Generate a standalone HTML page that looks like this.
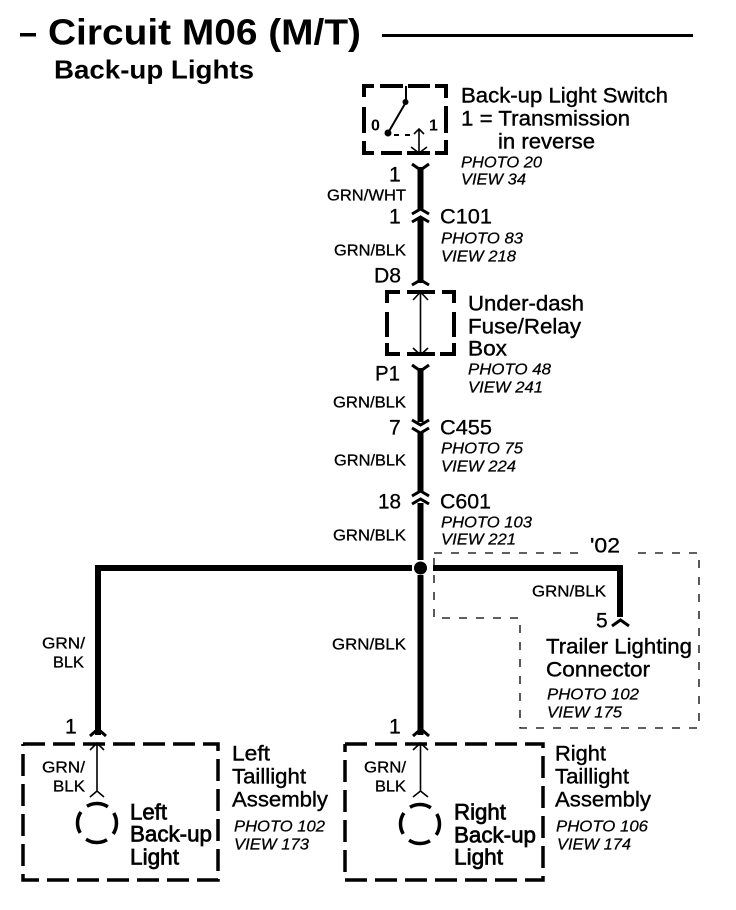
<!DOCTYPE html>
<html><head><meta charset="utf-8"><style>
html,body{margin:0;padding:0;background:#fff}
svg{display:block}
text{font-family:"Liberation Sans",sans-serif;fill:#000;transform:translateY(.6px)}
.l{font-size:21.5px;stroke:#000;stroke-width:.4px}
.b{font-size:22px;stroke:#000;stroke-width:.7px}
.w{font-size:16px;stroke:#000;stroke-width:.3px}
.p{font-size:15.5px;font-style:italic;stroke:#000;stroke-width:.25px}
.n{font-size:21px;stroke:#000;stroke-width:.3px}
.d{fill:none;stroke:#000;stroke-width:3.5;stroke-dasharray:22 8}
.s{fill:none;stroke:#000;stroke-width:4}
.t{fill:none;stroke:#000;stroke-width:1.3;stroke-dasharray:8 9}
.a{fill:none;stroke:#000;stroke-width:3}
.h{fill:none;stroke:#000;stroke-width:1.6}
</style></head><body>
<svg width="736" height="910" viewBox="0 0 736 910" xmlns="http://www.w3.org/2000/svg">
<rect x="20" y="33" width="16" height="3.5"/>
<text x="48" y="44" font-size="36" font-weight="bold" textLength="313" lengthAdjust="spacingAndGlyphs">Circuit M06 (M/T)</text>
<rect x="382" y="34" width="311" height="3"/>
<text x="54" y="78" font-size="26" font-weight="bold" textLength="200" lengthAdjust="spacingAndGlyphs">Back-up Lights</text>

<!-- Switch box -->
<path class="s" d="M364 97V86H374M380 86H403M408 86H430M435 86H446V98M446 106V133M446 140V153H435M430 153H407M402 153H381M374 153H364V141M364 133V107"/>
<path d="M406 86V102L388 133" fill="none" stroke="#000" stroke-width="2"/>
<circle cx="405.500" cy="102" r="3"/><circle cx="388" cy="133" r="3.500"/>
<path d="M394 135H410" fill="none" stroke="#000" stroke-width="2" stroke-dasharray="5 6"/>
<path d="M419 130V153M414 134L419 129L424 134M411 147L419 153L427 147" class="h"/>
<text x="371" y="130" font-size="16" font-weight="bold">0</text>
<text x="429" y="130" font-size="16" font-weight="bold">1</text>
<text class="l" x="461" y="102" textLength="207" lengthAdjust="spacingAndGlyphs">Back-up Light Switch</text>
<text class="l" x="461" y="125" textLength="169" lengthAdjust="spacingAndGlyphs">1 = Transmission</text>
<text class="l" x="498" y="148" textLength="97" lengthAdjust="spacingAndGlyphs">in reverse</text>
<text class="p" x="461" y="167" textLength="81" lengthAdjust="spacingAndGlyphs">PHOTO 20</text>
<text class="p" x="461" y="184" textLength="65" lengthAdjust="spacingAndGlyphs">VIEW 34</text>

<!-- Main vertical wires -->
<rect x="417.500" y="167" width="6" height="42"/>
<rect x="417.500" y="218" width="6" height="65"/>
<rect x="417.500" y="368" width="6" height="54"/>
<rect x="417.500" y="433" width="6" height="59"/>
<rect x="417.500" y="503" width="6" height="57"/>
<rect x="417.500" y="575" width="6" height="160"/>
<!-- connector marks -->
<path class="a" d="M412 164L420.500 170L429 164"/>
<path class="a" d="M412 214L420.500 209L429 214M412 222L420.500 217L429 222"/>
<path class="a" d="M412 285L420.500 280L429 285"/>
<path class="a" d="M412 365L420.500 371L429 365"/>
<path class="a" d="M412 420L420.500 425L429 420M412 428L420.500 433L429 428"/>
<path class="a" d="M412 496L420.500 491L429 496M412 504L420.500 499L429 504"/>

<text class="n" x="389" y="181">1</text>
<text class="w" x="327" y="200" textLength="79" lengthAdjust="spacingAndGlyphs">GRN/WHT</text>
<text class="n" x="389" y="223">1</text>
<text class="n" x="440" y="223" textLength="52" lengthAdjust="spacingAndGlyphs">C101</text>
<text class="p" x="441" y="243" textLength="82" lengthAdjust="spacingAndGlyphs">PHOTO 83</text>
<text class="p" x="441" y="261" textLength="75" lengthAdjust="spacingAndGlyphs">VIEW 218</text>
<text class="w" x="334" y="255" textLength="72" lengthAdjust="spacingAndGlyphs">GRN/BLK</text>
<text class="n" x="374" y="282" textLength="27" lengthAdjust="spacingAndGlyphs">D8</text>

<!-- Fuse box -->
<path class="s" d="M387 303V292H400M407 292H435M442 292H454V303M454 312V337M454 343V354H440M435 354H407M400 354H387V343M387 337V312"/>
<path d="M420.500 292V355M413 300L420.500 292L428 300M413 348L420.500 355L428 348" class="h"/>
<text class="l" x="468" y="310" textLength="116" lengthAdjust="spacingAndGlyphs">Under-dash</text>
<text class="l" x="468" y="333" textLength="113" lengthAdjust="spacingAndGlyphs">Fuse/Relay</text>
<text class="l" x="468" y="355" textLength="39" lengthAdjust="spacingAndGlyphs">Box</text>
<text class="p" x="468" y="374" textLength="83" lengthAdjust="spacingAndGlyphs">PHOTO 48</text>
<text class="p" x="468" y="392" textLength="75" lengthAdjust="spacingAndGlyphs">VIEW 241</text>

<text class="n" x="375" y="380" textLength="25" lengthAdjust="spacingAndGlyphs">P1</text>
<text class="w" x="333" y="407" textLength="73" lengthAdjust="spacingAndGlyphs">GRN/BLK</text>
<text class="n" x="389" y="434">7</text>
<text class="n" x="440" y="434" textLength="52" lengthAdjust="spacingAndGlyphs">C455</text>
<text class="p" x="441" y="453" textLength="82" lengthAdjust="spacingAndGlyphs">PHOTO 75</text>
<text class="p" x="441" y="471" textLength="75" lengthAdjust="spacingAndGlyphs">VIEW 224</text>
<text class="w" x="334" y="465" textLength="72" lengthAdjust="spacingAndGlyphs">GRN/BLK</text>
<text class="n" x="378" y="508" textLength="23" lengthAdjust="spacingAndGlyphs">18</text>
<text class="n" x="440" y="508" textLength="51" lengthAdjust="spacingAndGlyphs">C601</text>
<text class="p" x="441" y="527" textLength="91" lengthAdjust="spacingAndGlyphs">PHOTO 103</text>
<text class="p" x="441" y="544" textLength="75" lengthAdjust="spacingAndGlyphs">VIEW 221</text>
<text class="w" x="333" y="540" textLength="73" lengthAdjust="spacingAndGlyphs">GRN/BLK</text>

<!-- Horizontal bus -->
<circle cx="420.500" cy="568" r="6.500"/>
<path d="M98 735V568H412M433 568H620V617" fill="none" stroke="#000" stroke-width="6"/>

<!-- Dotted option box -->
<path class="t" d="M434 553H583M638 553H699V728H520V618H434V553"/>
<text class="n" x="590" y="552" textLength="30" lengthAdjust="spacingAndGlyphs">'02</text>
<text class="w" x="532" y="596" textLength="74" lengthAdjust="spacingAndGlyphs">GRN/BLK</text>
<text class="n" x="596" y="627">5</text>
<path class="a" d="M612 626L620.500 620L629 626"/>
<text class="l" x="546" y="653" textLength="146" lengthAdjust="spacingAndGlyphs">Trailer Lighting</text>
<text class="l" x="546" y="676" textLength="104" lengthAdjust="spacingAndGlyphs">Connector</text>
<text class="p" x="547" y="699" textLength="92" lengthAdjust="spacingAndGlyphs">PHOTO 102</text>
<text class="p" x="547" y="717" textLength="75" lengthAdjust="spacingAndGlyphs">VIEW 175</text>

<text class="w" x="332" y="649" textLength="74" lengthAdjust="spacingAndGlyphs">GRN/BLK</text>
<text class="w" x="42" y="648" textLength="43" lengthAdjust="spacingAndGlyphs">GRN/</text>
<text class="w" x="53" y="667" textLength="31" lengthAdjust="spacingAndGlyphs">BLK</text>

<!-- Left assembly -->
<text class="n" x="65" y="733">1</text>
<path class="a" d="M90 736L98 729L106 736"/>
<path class="d" d="M23 744H218V880H23V744"/>
<path d="M97 743V791M90 750L97 743L104 750M90 797L97 791L104 797" class="h"/>
<circle cx="97" cy="823" r="19.500" fill="none" stroke="#000" stroke-width="3.500" stroke-dasharray="22 8.630" transform="rotate(-121 97 823)"/>
<text class="w" x="42" y="772" textLength="43" lengthAdjust="spacingAndGlyphs">GRN/</text>
<text class="w" x="53" y="791" textLength="32" lengthAdjust="spacingAndGlyphs">BLK</text>
<text class="b" x="130" y="819" textLength="37" lengthAdjust="spacingAndGlyphs">Left</text>
<text class="b" x="130" y="841" textLength="82" lengthAdjust="spacingAndGlyphs">Back-up</text>
<text class="b" x="130" y="864" textLength="49" lengthAdjust="spacingAndGlyphs">Light</text>
<text class="l" x="232" y="760" textLength="38" lengthAdjust="spacingAndGlyphs">Left</text>
<text class="l" x="232" y="783" textLength="74" lengthAdjust="spacingAndGlyphs">Taillight</text>
<text class="l" x="232" y="806" textLength="96" lengthAdjust="spacingAndGlyphs">Assembly</text>
<text class="p" x="234" y="831" textLength="91" lengthAdjust="spacingAndGlyphs">PHOTO 102</text>
<text class="p" x="234" y="849" textLength="75" lengthAdjust="spacingAndGlyphs">VIEW 173</text>

<!-- Right assembly -->
<text class="n" x="389" y="733">1</text>
<path class="a" d="M413 736L421 729L429 736"/>
<path class="d" d="M345 744H543V880H345V744"/>
<path d="M420.500 743V791M413 750L420.500 743L428 750M413 797L420.500 791L428 797" class="h"/>
<circle cx="420" cy="824" r="19.500" fill="none" stroke="#000" stroke-width="3.500" stroke-dasharray="22 8.630" transform="rotate(-121 420 824)"/>
<text class="w" x="364" y="772" textLength="42" lengthAdjust="spacingAndGlyphs">GRN/</text>
<text class="w" x="375" y="791" textLength="31" lengthAdjust="spacingAndGlyphs">BLK</text>
<text class="b" x="454" y="819" textLength="52" lengthAdjust="spacingAndGlyphs">Right</text>
<text class="b" x="454" y="842" textLength="82" lengthAdjust="spacingAndGlyphs">Back-up</text>
<text class="b" x="454" y="864" textLength="49" lengthAdjust="spacingAndGlyphs">Light</text>
<text class="l" x="555" y="760" textLength="51" lengthAdjust="spacingAndGlyphs">Right</text>
<text class="l" x="555" y="783" textLength="74" lengthAdjust="spacingAndGlyphs">Taillight</text>
<text class="l" x="555" y="806" textLength="96" lengthAdjust="spacingAndGlyphs">Assembly</text>
<text class="p" x="556" y="831" textLength="92" lengthAdjust="spacingAndGlyphs">PHOTO 106</text>
<text class="p" x="557" y="849" textLength="74" lengthAdjust="spacingAndGlyphs">VIEW 174</text>
</svg>
</body></html>
